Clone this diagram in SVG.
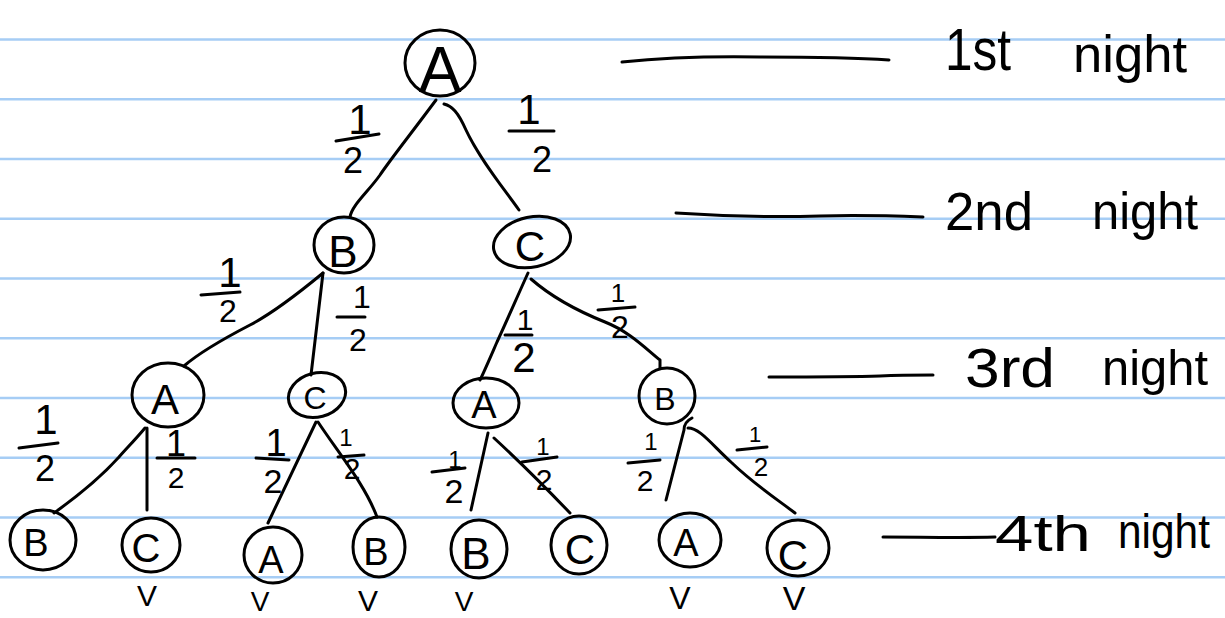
<svg xmlns="http://www.w3.org/2000/svg" width="1225" height="618" viewBox="0 0 1225 618">
<style>
.rule{stroke:#a6cdf5;stroke-width:2.5}
.node ellipse{fill:none;stroke:#000;stroke-width:3}
.lbl{font-family:"Liberation Sans",Arial,sans-serif;fill:#000;text-anchor:middle}
.conn path,.bar{fill:none;stroke:#000;stroke-width:3;stroke-linecap:round;stroke-linejoin:round}
.hw{font-family:"Liberation Sans",Arial,sans-serif;fill:#000}
</style>
<rect width="1225" height="618" fill="#fff"/>
<g id="ruling">
<line class="rule" x1="0" y1="39.5" x2="1225" y2="39.5"/>
<line class="rule" x1="0" y1="99.3" x2="1225" y2="99.3"/>
<line class="rule" x1="0" y1="159" x2="1225" y2="159"/>
<line class="rule" x1="0" y1="218.8" x2="1225" y2="218.8"/>
<line class="rule" x1="0" y1="278.5" x2="1225" y2="278.5"/>
<line class="rule" x1="0" y1="338.3" x2="1225" y2="338.3"/>
<line class="rule" x1="0" y1="398" x2="1225" y2="398"/>
<line class="rule" x1="0" y1="457.8" x2="1225" y2="457.8"/>
<line class="rule" x1="0" y1="517.5" x2="1225" y2="517.5"/>
<line class="rule" x1="0" y1="577.3" x2="1225" y2="577.3"/>
</g>
<g id="connectors" class="conn">
<path d="M436,100 C410,135 390,160 380,175 C368,192 352,205 350,217"/>
<path d="M444,104 C452,106 458,112 466,130 C480,160 505,190 519,210"/>
<path d="M323,273 C300,292 275,312 250,325 C225,338 200,352 184,366"/>
<path d="M323,273 L311,375"/>
<path d="M528,273 C518,295 505,325 497,342 C490,358 484,372 480,380"/>
<path d="M531,279 C555,300 580,312 605,322 C630,332 645,348 660,360 L660,368"/>
<path d="M145,428 C135,440 125,450 119,457 C100,478 75,498 54,513"/>
<path d="M147,428 L147,510"/>
<path d="M316,422 L268,523"/>
<path d="M318,422 C340,455 365,485 377,517"/>
<path d="M488,433 L471,510"/>
<path d="M494,438 C520,462 548,490 570,513"/>
<path d="M692,418 C686,421 684,425 684,430 L666,500"/>
<path d="M688,428 C700,428 712,445 732,463 C755,485 778,500 795,513"/>
<path d="M622,62 C660,58 700,56 760,57 C820,57 860,58 889,60"/>
<path d="M676,213 C720,216 780,217 820,216 C860,215 895,216 923,217"/>
<path d="M769,377 C810,377 850,377 880,376 C900,375 915,375 933,375"/>
<path d="M883,537 C920,537 960,538 995,537"/>
</g>
<g id="n1" class="node"><ellipse cx="440" cy="63" rx="35" ry="33"/><text class="lbl" x="440" y="92" font-size="64">A</text></g>
<g id="n2" class="node"><ellipse cx="344" cy="245" rx="30" ry="28"/><text class="lbl" x="343" y="267" font-size="44">B</text></g>
<g id="n3" class="node"><ellipse cx="532" cy="242" rx="39" ry="25" transform="rotate(-12 532 242)"/><text class="lbl" x="530" y="261" font-size="42">C</text></g>
<g id="n4" class="node"><ellipse cx="168" cy="395" rx="36" ry="32"/><text class="lbl" x="165" y="414" font-size="42">A</text></g>
<g id="n5" class="node"><ellipse cx="317" cy="395" rx="29" ry="22" transform="rotate(-15 317 395)"/><text class="lbl" x="315" y="409" font-size="32">C</text></g>
<g id="n6" class="node"><ellipse cx="486" cy="403" rx="33" ry="25"/><text class="lbl" x="484" y="418" font-size="38">A</text></g>
<g id="n7" class="node"><ellipse cx="667" cy="396" rx="28" ry="28"/><text class="lbl" x="665" y="410" font-size="32">B</text></g>
<g id="n8" class="node"><ellipse cx="43" cy="540" rx="33" ry="30"/><text class="lbl" x="36" y="556" font-size="38">B</text></g>
<g id="n9" class="node"><ellipse cx="151" cy="545" rx="29" ry="27"/><text class="lbl" x="146" y="562" font-size="40">C</text></g>
<g id="n10" class="node"><ellipse cx="273" cy="555" rx="29" ry="28"/><text class="lbl" x="271" y="573" font-size="38">A</text></g>
<g id="n11" class="node"><ellipse cx="379" cy="547" rx="26" ry="30"/><text class="lbl" x="376" y="565" font-size="38">B</text></g>
<g id="n12" class="node"><ellipse cx="479" cy="549" rx="28" ry="29"/><text class="lbl" x="476" y="569" font-size="44">B</text></g>
<g id="n13" class="node"><ellipse cx="579" cy="545" rx="28" ry="29"/><text class="lbl" x="580" y="564" font-size="42">C</text></g>
<g id="n14" class="node"><ellipse cx="690" cy="540" rx="31" ry="27"/><text class="lbl" x="686" y="556" font-size="38">A</text></g>
<g id="n15" class="node"><ellipse cx="798" cy="548" rx="31" ry="28"/><text class="lbl" x="793" y="570" font-size="42">C</text></g>
<g id="fractions">
<text class="lbl" x="360" y="134" font-size="42">1</text><path class="bar" d="M336,141 L379,134"/><text class="lbl" x="353" y="173" font-size="36">2</text>
<text class="lbl" x="529" y="124" font-size="42">1</text><path class="bar" d="M509,131 L554,131"/><text class="lbl" x="542" y="172" font-size="36">2</text>
<text class="lbl" x="230" y="287" font-size="42">1</text><path class="bar" d="M201,295 L240,292"/><text class="lbl" x="228" y="322" font-size="32">2</text>
<text class="lbl" x="362" y="308" font-size="32">1</text><path class="bar" d="M337,317 L365,317"/><text class="lbl" x="358" y="351" font-size="32">2</text>
<text class="lbl" x="525" y="330" font-size="30">1</text><path class="bar" d="M505,335 L532,335"/><text class="lbl" x="524" y="372" font-size="42">2</text>
<text class="lbl" x="618" y="302" font-size="26">1</text><path class="bar" d="M598,310 L635,307"/><text class="lbl" x="620" y="338" font-size="32">2</text>
<text class="lbl" x="46" y="434" font-size="42">1</text><path class="bar" d="M19,448 L58,443"/><text class="lbl" x="45" y="481" font-size="36">2</text>
<text class="lbl" x="176" y="456" font-size="36">1</text><path class="bar" d="M157,458 L195,458"/><text class="lbl" x="176" y="488" font-size="30">2</text>
<text class="lbl" x="276" y="456" font-size="38">1</text><path class="bar" d="M256,458 L289,460"/><text class="lbl" x="273" y="493" font-size="34">2</text>
<text class="lbl" x="346" y="446" font-size="24">1</text><path class="bar" d="M338,457 L364,455"/><text class="lbl" x="352" y="479" font-size="30">2</text>
<text class="lbl" x="455" y="468" font-size="24">1</text><path class="bar" d="M432,472 L465,468"/><text class="lbl" x="454" y="503" font-size="34">2</text>
<text class="lbl" x="543" y="455" font-size="24">1</text><path class="bar" d="M522,462 L557,457"/><text class="lbl" x="544" y="490" font-size="30">2</text>
<text class="lbl" x="651" y="450" font-size="24">1</text><path class="bar" d="M628,463 L660,460"/><text class="lbl" x="645" y="491" font-size="30">2</text>
<text class="lbl" x="755" y="442" font-size="22">1</text><path class="bar" d="M737,450 L767,447"/><text class="lbl" x="761" y="476" font-size="26">2</text>
</g>
<g id="checks">
<text class="lbl" x="147" y="606" font-size="30">V</text>
<text class="lbl" x="260" y="611" font-size="28">V</text>
<text class="lbl" x="368" y="611" font-size="30">V</text>
<text class="lbl" x="464" y="611" font-size="28">V</text>
<text class="lbl" x="680" y="609" font-size="32">V</text>
<text class="lbl" x="794" y="610" font-size="34">V</text>
</g>
<g id="levels">
<text class="hw" x="945" y="70" font-size="60" textLength="66" lengthAdjust="spacingAndGlyphs">1st</text>
<text class="hw" x="1073" y="72" font-size="52" textLength="114" lengthAdjust="spacingAndGlyphs">night</text>
<text class="hw" x="945" y="230" font-size="54" textLength="88" lengthAdjust="spacingAndGlyphs">2nd</text>
<text class="hw" x="1092" y="229" font-size="52" textLength="106" lengthAdjust="spacingAndGlyphs">night</text>
<text class="hw" x="965" y="387" font-size="56" textLength="90" lengthAdjust="spacingAndGlyphs">3rd</text>
<text class="hw" x="1102" y="385" font-size="50" textLength="106" lengthAdjust="spacingAndGlyphs">night</text>
<text class="hw" x="995" y="551" font-size="50" textLength="96" lengthAdjust="spacingAndGlyphs">4th</text>
<text class="hw" x="1118" y="548" font-size="48" textLength="92" lengthAdjust="spacingAndGlyphs">night</text>
</g>
</svg>
